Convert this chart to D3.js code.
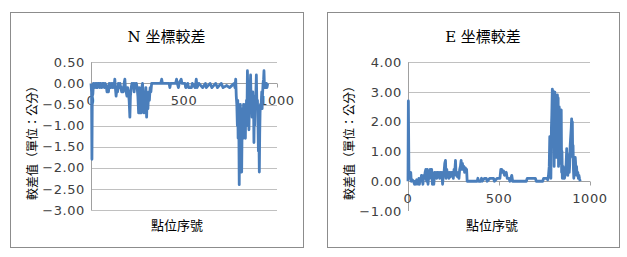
<!DOCTYPE html>
<html>
<head>
<meta charset="utf-8">
<script src="https://cdn.jsdelivr.net/npm/d3@7"></script>
<style>
  body { margin: 0; background: #fff; }
  text { font-family: "DejaVu Sans", "Noto Sans CJK TC", sans-serif; }
</style>
</head>
<body>
<div id="chart"></div>
<script>
var yTicksN = [0.5, 0, -0.5, -1, -1.5, -2, -2.5, -3],
	yTicksE = [4, 3, 2, 1, 0, -1],
	xTicks = [0, 500, 1000];

// N 坐標較差: [點位序號, 較差值]
var nPoints = [
	[0, 0], [3, -0.2], [5, -1.8], [7, -0.3], [10, -0.25], [13, 0], [18, -0.1], [22, 0], [27, -0.1], [31, 0],
	[35, -0.1], [38, 0], [45, 0], [48, -0.1], [52, 0], [58, -0.1], [62, 0], [68, 0], [72, -0.1], [76, 0],
	[82, -0.05], [86, -0.2], [90, -0.1], [94, -0.2], [98, 0], [104, -0.1], [108, 0], [114, -0.1], [118, 0], [124, -0.1],
	[128, 0.1], [131, -0.1], [135, -0.3], [139, -0.1], [143, -0.2], [147, 0], [152, -0.1], [156, 0], [160, -0.1], [165, -0.2],
	[169, -0.1], [173, -0.2], [178, 0], [182, 0.1], [185, -0.1], [189, -0.2], [193, -0.3], [197, -0.1], [201, -0.2], [205, -0.4],
	[209, -0.8], [212, -0.3], [216, -0.1], [220, 0], [224, -0.1], [228, 0], [232, -0.2], [236, 0], [240, -0.1], [244, 0],
	[248, -0.1], [252, -0.3], [256, -0.7], [259, -0.1], [263, -0.7], [266, -0.2], [270, -0.7], [273, -0.1], [277, 0], [281, -0.3],
	[285, -0.7], [288, -0.2], [292, -0.6], [295, -0.1], [299, -0.8], [302, -0.3], [306, -0.6], [310, -0.2], [314, -0.4], [318, -0.1],
	[322, -0.2], [326, 0], [375, 0], [380, 0.1], [384, 0], [420, 0], [424, -0.1], [428, 0], [455, 0], [460, 0.1],
	[464, 0], [470, -0.1], [474, 0], [485, 0.1], [489, 0], [505, 0], [510, -0.1], [520, 0], [525, -0.1], [540, -0.1],
	[545, 0], [560, -0.1], [566, 0.1], [570, -0.1], [580, 0], [600, -0.1], [615, 0], [620, -0.1], [640, 0], [650, -0.1],
	[670, 0], [680, -0.1], [700, 0], [710, -0.1], [730, -0.05], [745, -0.1], [770, 0], [774, -0.1], [778, 0.1], [781, -0.3],
	[784, -0.5], [787, -1.0], [789, -0.4], [791, -1.3], [794, -0.5], [797, -2.4], [799, -1.0], [801, -1.8], [803, -0.5], [806, -1.5],
	[808, -0.8], [810, -2.1], [812, -1.2], [814, -0.6], [816, -1.0], [818, -1.3], [820, -0.5], [822, -1.2], [824, -0.6], [826, -1.2],
	[828, -0.8], [830, -1.3], [832, -0.5], [834, -1.0], [836, -0.4], [838, -1.0], [841, 0.3], [843, -0.2], [845, -0.6], [847, -0.3],
	[849, -1.1], [851, -0.6], [853, -0.4], [855, -0.2], [858, 0.2], [860, -0.3], [862, -0.5], [864, -0.3], [866, -0.8], [868, -0.5],
	[870, -0.2], [872, -0.6], [874, -0.5], [876, -1.4], [878, -0.7], [880, -1.0], [882, -0.3], [885, -0.5], [889, 0.2], [891, -0.3],
	[893, -0.6], [895, -0.4], [898, -1.0], [900, -1.6], [902, -0.9], [905, -2.1], [907, -1.2], [909, -0.7], [911, -0.5], [913, -0.6],
	[916, -0.4], [918, -0.2], [920, -0.6], [922, -0.3], [925, 0], [928, 0.1], [930, 0.3], [932, 0], [934, -0.1], [937, 0],
	[940, -0.1], [943, 0], [946, -0.1], [950, 0]
];

// E 坐標較差: [點位序號, 較差值]
var ePoints = [
	[0, 0], [2, 2.7], [5, 0.3], [9, 0.3], [12, 0.1], [15, 0.3], [18, 0], [24, 0.05], [30, 0], [36, -0.1],
	[40, 0], [44, -0.1], [48, 0.05], [52, 0], [56, -0.1], [60, 0.1], [63, -0.1], [66, 0.1], [70, 0], [74, 0.2],
	[78, 0.1], [82, -0.1], [86, 0.2], [90, 0.1], [94, 0.3], [98, 0.4], [102, 0], [106, 0.4], [110, -0.1], [114, 0.2],
	[118, 0.1], [122, 0.4], [126, 0.3], [130, 0.4], [134, -0.1], [138, 0.2], [142, -0.1], [146, 0.3], [150, 0.2], [154, 0.3],
	[158, 0.1], [162, 0.3], [166, 0.2], [170, 0.3], [174, 0.1], [178, 0.3], [182, 0.2], [186, 0.3], [190, -0.1], [194, 0.2],
	[198, 0.3], [202, 0.6], [206, 0.7], [209, 0.1], [213, 0.4], [217, 0.2], [221, 0.3], [225, 0.1], [229, 0.3], [233, 0.15],
	[237, 0.3], [241, 0.2], [245, 0.3], [249, 0.1], [253, 0.4], [257, 0.3], [261, 0.7], [264, 0.2], [268, 0.3], [272, 0.15],
	[276, 0.3], [280, 0.1], [284, 0.4], [288, 0.5], [292, 0.7], [295, 0.4], [299, 0.6], [303, 0.4], [307, 0.5], [311, 0.3],
	[315, 0.45], [319, 0.4], [322, 0.4], [325, 0], [380, 0], [384, 0.1], [388, 0], [400, 0], [404, 0.1], [408, 0],
	[420, 0.1], [430, 0.1], [435, 0], [450, 0.1], [470, 0.1], [475, 0], [490, 0.1], [505, 0.1], [510, 0.4], [515, 0.4],
	[520, 0.3], [525, 0.35], [530, 0.2], [540, 0.3], [545, 0.1], [555, 0.1], [560, 0], [570, 0.2], [575, 0], [650, 0],
	[655, 0.1], [700, 0.1], [705, 0], [740, 0], [745, 0.1], [760, 0.1], [768, 0.05], [772, 0.2], [776, 0.5], [779, 1.5],
	[781, 1.4], [783, 0.3], [785, 0.1], [788, 1.8], [790, 2.2], [793, 3.1], [795, 2.9], [797, 3.05], [799, 1.5], [801, 2.2],
	[803, 0.5], [805, 1.8], [807, 3.0], [809, 1.0], [811, 2.2], [813, 2.5], [815, 0.8], [817, 1.8], [819, 2.4], [821, 2.9],
	[823, 1.5], [825, 2.8], [827, 0.5], [829, 2.0], [831, 2.5], [833, 1.0], [835, 1.8], [837, 0.6], [839, 2.2], [842, 2.4],
	[844, 0.3], [846, 1.0], [848, 0.1], [850, 0.4], [852, 0.5], [854, 0.1], [857, 0.3], [860, 0.1], [863, 0.2], [866, 0.3],
	[869, 0.6], [872, 1.1], [874, 0.5], [876, 0.8], [878, 0.2], [881, 0.6], [884, 0.9], [886, 0.3], [888, 0.5], [891, 1.2],
	[894, 1.5], [897, 1.8], [899, 2.1], [901, 1.6], [903, 2.0], [905, 0.8], [907, 1.2], [909, 0.4], [911, 0.1], [913, 0.3],
	[915, 0.5], [917, 0.2], [919, 0.8], [921, 0.6], [923, 0.3], [926, 0.5], [929, 0.2], [933, 0.3], [936, 0.1], [939, 0.2],
	[942, 0.1], [946, 0]
];

var panels = [
	{ title: "N 坐標較差", pts: nPoints, ticks: yTicksN, min: -3, max: 0.5, grid: yTicksN,
	  box: [10, 12, 293, 235], plot: [91, 62.3, 277, 210] },
	{ title: "E 坐標較差", pts: ePoints, ticks: yTicksE, min: -1, max: 4, grid: [4, 3, 2, 1],
	  box: [327, 12, 292, 235], plot: [408, 62.3, 590, 211] }
];

var svg = d3.select("#chart").append("svg")
	.attr("width", 627)
	.attr("height", 257);

panels.forEach(function(p) {
	var g = svg.append("g");

	g.append("rect")
		.attr("x", p.box[0] + 0.5)
		.attr("y", p.box[1] + 0.5)
		.attr("width", p.box[2])
		.attr("height", p.box[3])
		.style("fill", "#fff")
		.style("stroke", "#8c8c8c")
		.style("stroke-width", 1);

	var x = d3.scaleLinear().domain([0, 1000]).range([p.plot[0], p.plot[2]]);
	var y = d3.scaleLinear().domain([p.min, p.max]).range([p.plot[3], p.plot[1]]);

	// gridlines
	g.selectAll(".grid").data(p.grid).enter().append("line")
		.attr("x1", x(0))
		.attr("x2", x(1000))
		.attr("y1", function(d) { return Math.round(y(d)) + 0.5; })
		.attr("y2", function(d) { return Math.round(y(d)) + 0.5; })
		.style("stroke", "#c0c0c0")
		.style("stroke-width", 1);

	// vertical axis
	g.append("line")
		.attr("x1", Math.round(x(0)) + 0.5)
		.attr("x2", Math.round(x(0)) + 0.5)
		.attr("y1", y(p.max))
		.attr("y2", y(p.min))
		.style("stroke", "#a0a0a0");

	// horizontal axis at zero
	var zy = Math.round(y(0)) + 0.5;
	g.append("line")
		.attr("x1", x(0))
		.attr("x2", x(1000))
		.attr("y1", zy)
		.attr("y2", zy)
		.style("stroke", "#a0a0a0");
	g.selectAll(".xt").data(xTicks).enter().append("line")
		.attr("x1", function(d) { return Math.round(x(d)) + 0.5; })
		.attr("x2", function(d) { return Math.round(x(d)) + 0.5; })
		.attr("y1", zy)
		.attr("y2", zy + 4)
		.style("stroke", "#a0a0a0");

	// y tick labels
	g.selectAll(".yl").data(p.ticks).enter().append("text")
		.attr("x", x(0) - 6)
		.attr("y", function(d) { return y(d); })
		.attr("dy", "0.36em")
		.attr("text-anchor", "end")
		.style("font-size", "13px")
		.style("letter-spacing", "0.6px")
		.style("fill", "#404040")
		.text(function(d) { return d3.format(".2f")(d); });

	// x tick labels
	g.selectAll(".xl").data(xTicks).enter().append("text")
		.attr("x", function(d) { return x(d); })
		.attr("y", y(0) + 17)
		.attr("dy", "0.36em")
		.attr("text-anchor", "middle")
		.style("font-size", "13px")
		.style("letter-spacing", "0.6px")
		.style("fill", "#404040")
		.text(function(d) { return d; });

	// data line
	var line = d3.line()
		.x(function(d) { return x(d[0]); })
		.y(function(d) { return y(d[1]); });
	g.append("path")
		.datum(p.pts)
		.attr("d", line)
		.style("fill", "none")
		.style("stroke", "#4a7ebb")
		.style("stroke-width", 2.8)
		.style("stroke-linejoin", "round");

	// titles
	var cx = p.box[0] + p.box[2] / 2 + 10;
	g.append("text")
		.attr("x", cx)
		.attr("y", 37)
		.attr("dy", "0.36em")
		.attr("text-anchor", "middle")
		.style("font-family", "'DejaVu Serif', 'Noto Sans CJK TC', serif")
		.style("font-size", "15px")
		.style("fill", "#000")
		.text(p.title);

	g.append("text")
		.attr("x", (x(0) + x(1000)) / 2 - 7)
		.attr("y", 225)
		.attr("dy", "0.36em")
		.attr("text-anchor", "middle")
		.style("font-family", "'Noto Sans CJK TC', sans-serif")
		.style("font-size", "13px")
		.style("fill", "#000")
		.text("點位序號");

	g.append("text")
		.attr("transform", "translate(" + (p.box[0] + 23) + "," + 140 + ") rotate(-90)")
		.attr("dy", "0.36em")
		.attr("text-anchor", "middle")
		.style("font-family", "'Noto Sans CJK TC', sans-serif")
		.style("font-size", "12px")
		.style("fill", "#000")
		.text("較差值（單位：公分）");
});
</script>
</body>
</html>
